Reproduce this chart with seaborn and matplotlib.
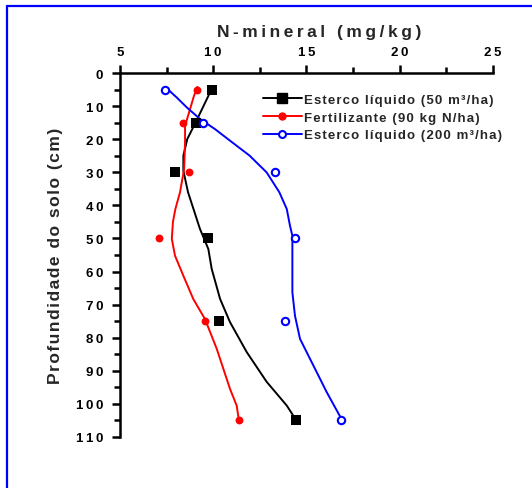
import numpy as np
import pandas as pd
import matplotlib
matplotlib.use("Agg")
import matplotlib.pyplot as plt
from matplotlib.lines import Line2D
from matplotlib.ticker import MultipleLocator, FuncFormatter
import seaborn as sns

# ---- data ----
depth_pts = [5, 15, 30, 50, 75, 105]
liq50_pts = [9.95, 9.08, 7.95, 9.74, 10.31, 14.43]
fert_pts = [9.15, 8.40, 8.70, 7.09, 9.58, 11.37]
liq200_pts = [7.42, 9.47, 13.32, 14.38, 13.86, 16.86]

# fitted curves
liq50_curve_depth = [4.4, 14.6, 19.9, 24.9, 29.5, 36, 47.1, 53.2, 59.2, 68.3, 75.3, 84.4, 93.4, 100.6, 104.8]
liq50_curve_x = [9.95, 9.08, 8.61, 8.40, 8.40, 8.65, 9.29, 9.74, 9.92, 10.37, 10.9, 11.8, 12.87, 13.95, 14.43]
fert_curve_depth = [4.1, 6.8, 10.8, 15.9, 20.9, 29.0, 36.0, 41.1, 45.0, 50.1, 55.2, 61.3, 68.3, 74.4, 83.4, 95.5, 100.6, 104.6]
fert_curve_x = [9.15, 8.97, 8.76, 8.49, 8.49, 8.44, 8.22, 7.97, 7.84, 7.78, 7.95, 8.40, 8.93, 9.56, 10.19, 10.9, 11.26, 11.37]
liq200_curve_depth = [4.1, 7.3, 10.3, 13.8, 16.9, 20.9, 24.9, 30.0, 36.0, 41.1, 46.1, 49.2, 66.3, 73.4, 80.4, 88.5, 96.5, 104.4]
liq200_curve_x = [7.42, 8.04, 8.58, 9.29, 10.10, 11.02, 11.95, 12.87, 13.55, 13.95, 14.12, 14.25, 14.25, 14.39, 14.66, 15.38, 16.09, 16.86]

labels = ["Esterco líquido (50 m³/ha)", "Fertilizante (90 kg N/ha)", "Esterco líquido (200 m³/ha)"]
colors = ["#000000", "#ff0000", "#0000ff"]

THIN = "\u2009"
HAIR = "\u200a"


def spaced(s, sp):
    return sp.join(list(s))


sns.set_style("white")
plt.rcParams["font.family"] = ["Liberation Sans", "DejaVu Sans"]
plt.rcParams["font.weight"] = "bold"

fig = plt.figure(figsize=(5.32, 4.89), dpi=100)
ax = fig.add_axes([0.2256, 0.105, 0.7005, 0.743])

curves = [(liq50_curve_x, liq50_curve_depth), (fert_curve_x, fert_curve_depth), (liq200_curve_x, liq200_curve_depth)]
for (cx, cd), c in zip(curves, colors):
    sns.lineplot(x=cx, y=cd, orient="y", sort=True, color=c, lw=1.4, ax=ax, legend=False)

df50 = pd.DataFrame({"x": liq50_pts, "d": depth_pts})
dff = pd.DataFrame({"x": fert_pts, "d": depth_pts})
df200 = pd.DataFrame({"x": liq200_pts, "d": depth_pts})
sns.scatterplot(data=df50, x="x", y="d", marker="s", s=60, color="black", edgecolor="black", linewidth=0, ax=ax, zorder=5)
sns.scatterplot(data=dff, x="x", y="d", marker="o", s=32, color="red", edgecolor="red", linewidth=0, ax=ax, zorder=5)
sns.scatterplot(data=df200, x="x", y="d", marker="o", s=28, facecolor="white", edgecolor="blue", linewidth=1.5, ax=ax, zorder=5)

ax.set_xlim(5, 25)
ax.set_ylim(110, 0)
ax.xaxis.set_ticks_position("top")
ax.xaxis.set_label_position("top")
ax.xaxis.set_major_locator(MultipleLocator(5))
ax.xaxis.set_minor_locator(MultipleLocator(2.5))
ax.yaxis.set_major_locator(MultipleLocator(10))
ax.yaxis.set_minor_locator(MultipleLocator(5))
fmt = FuncFormatter(lambda v, p: spaced(f"{v:.0f}", THIN))
ax.xaxis.set_major_formatter(fmt)
ax.yaxis.set_major_formatter(fmt)
for s in ["right", "bottom"]:
    ax.spines[s].set_visible(False)
for s in ["left", "top"]:
    ax.spines[s].set_color("black")
    ax.spines[s].set_linewidth(1.8)
ax.tick_params(which="major", length=6, width=1.8, direction="out", colors="black", labelsize=9.5)
ax.tick_params(axis="y", which="major", pad=6)
ax.tick_params(axis="x", which="major", pad=5)
ax.tick_params(which="minor", length=4, width=1.8, direction="out", colors="black")
ax.tick_params(axis="x", which="both", top=True, bottom=False)
ax.tick_params(axis="y", which="both", left=True, right=False)
for t in ax.get_xticklabels() + ax.get_yticklabels():
    t.set_fontweight("bold")

ax.set_xlabel(spaced("N-mineral (mg/kg)", THIN), fontsize=12.5, fontweight="bold", labelpad=7)
ax.xaxis.label.set_x(0.535)
ax.set_ylabel(spaced("Profundidade do solo (cm)", HAIR), fontsize=12.5, fontweight="bold", labelpad=9)
ax.grid(False)

handles = [
    Line2D([], [], color="black", lw=1.4, marker="s", markersize=7),
    Line2D([], [], color="red", lw=1.4, marker="o", markersize=5),
    Line2D([], [], color="blue", lw=1.4, marker="o", markersize=5, markerfacecolor="white", markeredgewidth=1.5),
]
fig.legend(handles, [spaced(l, HAIR) for l in labels], loc="upper left", bbox_to_anchor=(256 / 532, 1 - 88 / 489),
           frameon=False, handlelength=3.0, handletextpad=0.1, labelspacing=0.42,
           borderpad=0, prop={"weight": "bold", "size": 9.5})

# blue frame (top and left edges visible)
fig.add_artist(Line2D([7 / 532, 7 / 532], [0, 1 - 7 / 489], color="#0000ff", lw=1.6, transform=fig.transFigure))
fig.add_artist(Line2D([7 / 532, 1], [1 - 7 / 489, 1 - 7 / 489], color="#0000ff", lw=1.6, transform=fig.transFigure))

fig.savefig("out.png", dpi=100)
